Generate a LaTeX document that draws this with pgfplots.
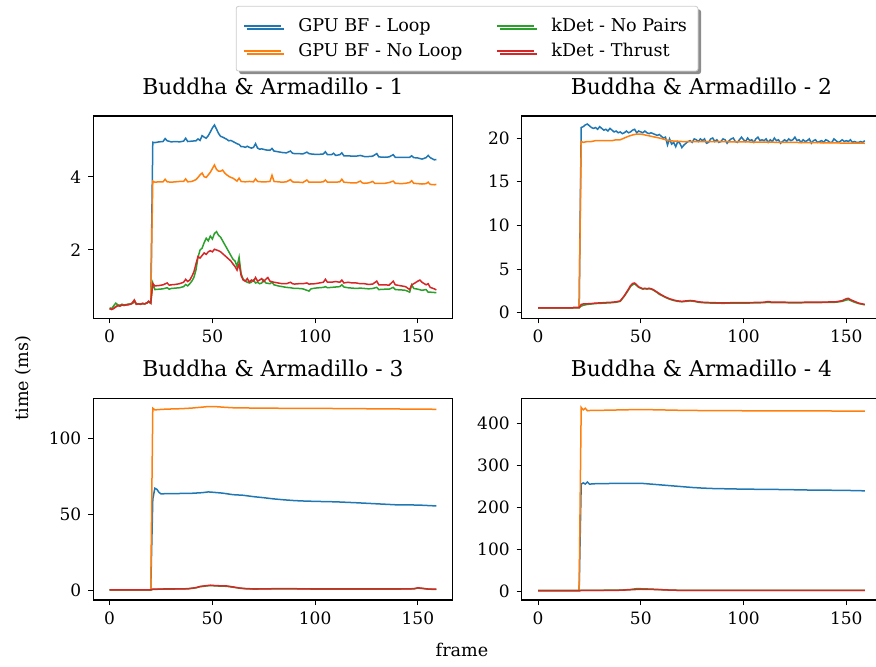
\documentclass[border=0pt]{standalone}
\usepackage{fontspec}
\setmainfont{DejaVu Serif}
\usepackage{pgfplots}
\pgfplotsset{compat=1.18}
\usetikzlibrary{shadows}
\definecolor{tabblue}{HTML}{1F77B4}
\definecolor{taborange}{HTML}{FF7F0E}
\definecolor{tabgreen}{HTML}{2CA02C}
\definecolor{tabred}{HTML}{D62728}
\pgfplotsset{
  myax/.style={
    scale only axis, width=179.7pt,
    xmin=-7.95, xmax=166.95, xtick={0,50,100,150},
    tick align=outside, major tick length=2.5pt,
    xtick pos=bottom, ytick pos=left,
    tick style={black, line width=0.5pt},
    axis line style={line width=0.55pt},
    every axis plot/.append style={line width=0.75pt, no markers},
    /pgf/number format/assume math mode=true,
    ticklabel style={font=\fontsize{8.5}{10}\selectfont},
    title style={font=\fontsize{10.9}{13}\selectfont, at={(0.5,1)}, anchor=base, yshift=5pt},
    anchor=south west,
  }
}
\begin{document}
\begin{tikzpicture}
\path[use as bounding box] (0pt,0pt) rectangle (438pt,333pt);
% ---------------- Plot 1
\begin{axis}[myax, at={(46.65pt,173.85pt)}, height=101.15pt,
  ymin=0.136, ymax=5.656, ytick={2,4},
  title={Buddha \& Armadillo - 1},
  legend style={at={(1.04,1.544)}, anchor=north, legend columns=2,
    draw=black!20, rounded corners=1.2pt, fill=white,
    font=\fontsize{8.8}{10}\selectfont,
    drop shadow={shadow xshift=1.5pt, shadow yshift=-1.5pt, fill=black!45, opacity=1},
    /tikz/every even column/.append style={column sep=15pt},
    row sep=0.3pt, inner xsep=3.5pt, inner ysep=3.85pt},
  legend cell align=left,
  legend image code/.code={\draw[#1, line width=0.75pt] (0pt,0pt) -- (18.3pt,0pt);},
]
\addlegendimage{tabblue}\addlegendentry{\hspace{6.5pt}GPU BF - Loop}
\addlegendimage{tabgreen}\addlegendentry{\hspace{6.5pt}kDet - No Pairs}
\addlegendimage{taborange}\addlegendentry{\hspace{6.5pt}GPU BF - No Loop}
\addlegendimage{tabred}\addlegendentry{\hspace{6.5pt}kDet - Thrust}
\addplot[tabblue, forget plot] coordinates {(0,0.40)(1,0.38)(2,0.42)(3,0.45)(4,0.50)(5,0.47)(6,0.50)(7,0.49)(8,0.50)(9,0.51)(10,0.52)(11,0.55)(12,0.63)(13,0.52)(14,0.53)(15,0.52)(16,0.54)(17,0.53)(18,0.55)(19,0.60)(20,0.55)
(21,4.94)(22,4.93)(24,4.95)(26,4.96)(27,5.04)(28,4.98)(30,4.95)(32,4.96)(34,4.95)(36,4.97)(37,5.05)(38,4.96)(40,4.97)(42,4.98)(43,5.03)(44,4.99)(45,5.12)(46,5.08)(47,5.05)(48,5.12)(49,5.22)(50,5.33)(51,5.41)(52,5.30)(53,5.18)(54,5.10)(55,5.08)(56,5.05)(57,5.02)(58,4.98)(59,4.99)(60,4.96)(61,4.93)(62,4.90)(63,4.88)(64,4.82)(65,4.82)(66,4.80)(67,4.83)(68,4.80)(69,4.78)(70,4.80)(71,4.90)(72,4.78)(73,4.75)(74,4.76)(76,4.73)(78,4.72)(79,4.77)(80,4.70)(82,4.68)(84,4.66)(86,4.65)(88,4.70)(89,4.64)(90,4.63)(92,4.63)(94,4.62)(96,4.67)(97,4.63)(98,4.62)(100,4.61)(102,4.61)(104,4.62)(105,4.68)(106,4.60)(108,4.60)(109,4.64)(110,4.58)(112,4.60)(113,4.65)(114,4.57)(116,4.57)(118,4.56)(120,4.56)(122,4.58)(124,4.55)(126,4.55)(128,4.56)(130,4.63)(131,4.54)(134,4.53)(136,4.54)(138,4.60)(139,4.53)(142,4.53)(144,4.53)(146,4.53)(147,4.57)(148,4.52)(150,4.51)(152,4.48)(154,4.52)(155,4.58)(156,4.52)(158,4.46)(159,4.47)};
\addplot[taborange, forget plot] coordinates {(0,0.40)(1,0.38)(2,0.42)(3,0.45)(4,0.50)(5,0.47)(6,0.50)(7,0.49)(8,0.50)(9,0.51)(10,0.52)(11,0.55)(12,0.63)(13,0.52)(14,0.53)(15,0.52)(16,0.54)(17,0.53)(18,0.55)(19,0.60)(20,0.55)
(21,3.88)(22,3.85)(24,3.86)(26,3.86)(27,3.93)(28,3.86)(30,3.85)(32,3.86)(34,3.87)(36,3.87)(37,3.94)(38,3.86)(40,3.87)(42,3.92)(43,3.98)(44,4.05)(45,4.10)(46,4.00)(47,3.98)(48,4.05)(49,4.12)(50,4.22)(51,4.32)(52,4.20)(53,4.15)(54,4.15)(55,4.18)(56,4.10)(57,4.05)(58,4.01)(59,3.98)(60,3.96)(61,3.92)(62,3.88)(63,3.96)(64,3.87)(66,3.86)(68,3.87)(70,3.86)(71,3.94)(72,3.87)(74,3.86)(76,3.86)(78,3.87)(79,4.04)(80,3.87)(82,3.86)(84,3.85)(86,3.86)(88,3.92)(89,3.86)(90,3.85)(92,3.85)(94,3.84)(96,3.91)(97,3.85)(100,3.85)(102,3.85)(104,3.86)(105,3.91)(106,3.85)(108,3.85)(110,3.85)(112,3.86)(113,3.93)(114,3.85)(116,3.84)(118,3.83)(120,3.83)(122,3.88)(123,3.83)(124,3.82)(126,3.83)(128,3.87)(129,3.82)(132,3.82)(134,3.82)(136,3.84)(138,3.88)(139,3.82)(142,3.81)(144,3.82)(146,3.84)(147,3.89)(148,3.82)(150,3.81)(152,3.80)(154,3.81)(155,3.85)(156,3.79)(158,3.78)(159,3.79)};
\addplot[tabgreen, forget plot] coordinates {(0,0.42)(1,0.40)(2,0.48)(3,0.55)(4,0.50)(5,0.49)(6,0.52)(7,0.50)(8,0.51)(9,0.52)(10,0.52)(11,0.54)(12,0.58)(13,0.53)(14,0.53)(15,0.52)(16,0.54)(17,0.53)(18,0.55)(19,0.58)(20,0.55)
(21,1.10)(22,0.92)(24,0.93)(26,0.94)(28,0.97)(29,0.93)(30,0.95)(32,0.96)(34,0.97)(36,1.00)(37,1.06)(38,1.02)(39,1.08)(40,1.15)(41,1.25)(42,1.45)(43,1.80)(44,2.00)(45,2.05)(46,2.20)(47,2.32)(48,2.25)(49,2.38)(50,2.30)(51,2.45)(52,2.50)(53,2.40)(54,2.35)(55,2.25)(56,2.15)(57,2.05)(58,1.95)(59,1.85)(60,1.75)(61,1.70)(62,1.55)(63,1.80)(64,1.35)(65,1.20)(66,1.15)(67,1.12)(68,1.10)(69,1.12)(70,1.18)(71,1.10)(72,1.12)(73,1.08)(74,1.10)(75,1.18)(76,1.10)(78,1.08)(79,1.12)(80,1.05)(82,1.02)(84,1.00)(86,0.98)(88,0.97)(90,0.95)(92,0.95)(94,0.94)(96,0.90)(97,0.88)(98,0.94)(100,0.96)(102,0.97)(104,0.98)(105,1.00)(106,0.97)(108,0.98)(110,0.99)(112,1.00)(113,1.05)(114,0.99)(116,0.97)(118,0.96)(120,0.95)(122,0.96)(124,0.95)(126,0.94)(128,0.95)(130,0.98)(131,0.92)(134,0.93)(136,0.93)(138,0.98)(139,0.92)(142,0.91)(144,0.90)(146,0.85)(147,1.05)(148,0.95)(150,0.93)(152,0.90)(154,0.92)(155,0.85)(156,0.85)(158,0.84)(159,0.84)};
\addplot[tabred, forget plot] coordinates {(0,0.40)(1,0.38)(2,0.40)(3,0.45)(4,0.48)(5,0.47)(6,0.50)(7,0.49)(8,0.50)(9,0.51)(10,0.52)(11,0.55)(12,0.63)(13,0.52)(14,0.53)(15,0.52)(16,0.54)(17,0.53)(18,0.55)(19,0.60)(20,0.55)
(21,1.08)(22,1.02)(24,1.03)(26,1.05)(28,1.10)(29,1.04)(30,1.05)(32,1.06)(34,1.08)(36,1.12)(37,1.20)(38,1.14)(39,1.18)(40,1.28)(41,1.40)(42,1.62)(43,1.82)(44,1.78)(45,1.85)(46,1.92)(47,1.88)(48,1.95)(49,1.98)(50,1.95)(51,2.02)(52,2.00)(53,1.98)(54,1.95)(55,1.90)(56,1.85)(57,1.80)(58,1.75)(59,1.70)(60,1.62)(61,1.55)(62,1.45)(63,1.62)(64,1.30)(65,1.18)(66,1.15)(67,1.22)(68,1.12)(69,1.18)(70,1.15)(71,1.25)(72,1.15)(73,1.18)(74,1.22)(75,1.14)(76,1.20)(77,1.25)(78,1.15)(80,1.12)(82,1.10)(84,1.08)(86,1.08)(88,1.12)(89,1.08)(90,1.07)(92,1.08)(94,1.08)(96,1.10)(97,1.07)(100,1.08)(102,1.10)(104,1.12)(105,1.20)(106,1.12)(108,1.12)(110,1.14)(112,1.12)(113,1.18)(114,1.10)(116,1.12)(118,1.10)(120,1.10)(122,1.08)(124,1.08)(126,1.06)(128,1.07)(130,1.15)(131,1.05)(134,1.05)(136,1.04)(138,1.15)(139,1.05)(142,1.02)(144,1.00)(146,0.92)(147,1.05)(148,1.08)(150,1.15)(151,1.18)(152,1.12)(154,1.05)(155,1.08)(156,0.98)(158,0.94)(159,0.91)};
\end{axis}
% ---------------- Plot 2
\begin{axis}[myax, at={(260.85pt,173.85pt)}, height=101.15pt,
  ymin=-0.64, ymax=22.52, ytick={0,5,10,15,20},
  title={Buddha \& Armadillo - 2}]
\addplot[tabblue] coordinates {(0,0.55)(5,0.55)(10,0.56)(15,0.56)(20,0.58)
(21,21.2)(22,21.3)(23,21.5)(24,21.6)(25,21.4)(26,21.2)(27,21.1)(28,21.2)(29,21.0)(30,21.3)(31,21.1)(32,20.9)(33,21.0)(34,20.8)(35,21.1)(36,20.9)(37,20.7)(38,20.8)(39,20.6)(40,20.7)(41,20.5)(42,20.6)(43,20.8)(44,20.6)(45,20.7)(46,20.9)(47,21.0)(48,20.6)(49,20.8)(50,20.7)(51,20.6)(52,20.8)(53,20.6)(54,20.5)(55,20.6)(56,20.5)(57,20.4)(58,20.3)(59,20.4)(60,20.2)(61,20.0)(62,20.1)(63,19.2)(64,19.9)(65,19.3)(66,19.5)(67,19.0)(68,19.6)(69,19.4)(70,18.9)(71,19.2)(72,19.4)(73,19.6)(74,19.7)(75,19.5)(76,19.9)(77,19.8)(78,19.6)(79,19.9)(80,19.7)(81,19.9)(82,19.4)(83,19.5)(84,19.9)(85,20.0)(86,19.6)(87,19.8)(88,19.5)(89,19.6)(90,19.9)(91,19.8)(92,19.4)(93,19.7)(94,19.9)(95,20.0)(96,19.6)(97,19.5)(98,19.8)(99,20.1)(100,19.8)(101,19.6)(102,20.0)(103,19.7)(104,19.8)(105,19.5)(106,19.9)(107,20.1)(108,19.7)(109,19.8)(110,19.7)(111,19.9)(112,19.5)(113,19.8)(114,19.6)(115,20.0)(116,19.7)(117,19.8)(118,19.4)(119,19.6)(120,19.8)(121,19.6)(122,19.9)(123,19.7)(124,19.8)(125,20.1)(126,19.7)(127,19.8)(128,19.5)(129,19.8)(130,19.6)(131,19.7)(132,19.9)(133,19.4)(134,19.7)(135,19.8)(136,19.5)(137,19.6)(138,19.7)(139,19.5)(140,19.8)(141,19.7)(142,19.5)(143,19.5)(144,19.9)(145,19.7)(146,19.5)(147,19.6)(148,19.8)(149,19.6)(150,19.7)(151,19.6)(152,19.8)(153,19.5)(154,19.6)(155,19.5)(156,19.5)(157,19.6)(158,19.5)(159,19.7)};
\addplot[taborange] coordinates {(0,0.55)(5,0.55)(10,0.56)(15,0.56)(20,0.58)
(21,19.6)(22,19.5)(24,19.6)(26,19.6)(28,19.7)(30,19.7)(32,19.7)(34,19.7)(36,19.7)(38,19.8)(40,19.8)(42,20.0)(44,20.2)(46,20.35)(48,20.45)(50,20.45)(52,20.35)(54,20.25)(56,20.15)(58,20.05)(60,19.95)(62,19.8)(64,19.7)(66,19.65)(70,19.6)(80,19.6)(90,19.58)(100,19.55)(110,19.53)(120,19.5)(130,19.48)(140,19.45)(150,19.42)(159,19.4)};
\addplot[tabgreen] coordinates {(0,0.55)(5,0.55)(10,0.56)(15,0.56)(20,0.58)
(21,0.75)(22,0.85)(24,0.95)(26,1.0)(28,1.05)(30,1.07)(32,1.1)(34,1.12)(36,1.15)(38,1.2)(40,1.3)(42,1.9)(44,2.6)(45,3.0)(46,3.2)(47,3.3)(48,3.1)(49,2.9)(50,2.8)(51,2.7)(52,2.75)(53,2.7)(54,2.75)(55,2.7)(56,2.6)(57,2.45)(58,2.3)(59,2.1)(60,2.0)(62,1.75)(64,1.55)(66,1.4)(68,1.3)(70,1.25)(72,1.3)(74,1.35)(76,1.3)(78,1.2)(80,1.15)(85,1.1)(90,1.08)(95,1.1)(100,1.1)(105,1.12)(110,1.15)(112,1.2)(114,1.15)(120,1.15)(125,1.12)(130,1.15)(135,1.15)(140,1.18)(145,1.2)(148,1.3)(150,1.45)(151,1.5)(152,1.4)(154,1.2)(156,1.05)(158,0.95)(159,0.9)};
\addplot[tabred] coordinates {(0,0.55)(5,0.55)(10,0.56)(15,0.56)(20,0.58)
(21,0.95)(22,1.0)(24,1.02)(26,1.05)(28,1.1)(30,1.12)(32,1.15)(34,1.18)(36,1.2)(38,1.25)(40,1.35)(42,1.95)(44,2.7)(45,3.1)(46,3.35)(47,3.4)(48,3.2)(49,2.95)(50,2.85)(51,2.75)(52,2.8)(53,2.75)(54,2.8)(55,2.75)(56,2.65)(57,2.5)(58,2.35)(59,2.2)(60,2.05)(62,1.8)(64,1.6)(66,1.45)(68,1.35)(70,1.3)(72,1.35)(74,1.4)(76,1.35)(78,1.25)(80,1.2)(85,1.15)(90,1.12)(95,1.15)(100,1.15)(105,1.17)(110,1.2)(112,1.28)(114,1.2)(120,1.2)(125,1.18)(130,1.2)(135,1.2)(140,1.22)(145,1.25)(148,1.38)(150,1.6)(151,1.65)(152,1.5)(154,1.3)(156,1.1)(158,1.0)(159,0.95)};
\end{axis}
% ---------------- Plot 3
\begin{axis}[myax, at={(46.65pt,33pt)}, height=100.85pt,
  ymin=-6.1, ymax=126.2, ytick={0,50,100},
  title={Buddha \& Armadillo - 3}]
\addplot[tabblue] coordinates {(0,0.5)(10,0.5)(20,0.5)(21,60.0)(22,67.2)(23,66.5)(24,64.5)(25,63.5)(28,63.7)(30,63.6)(35,63.8)(40,63.9)(45,64.3)(48,64.8)(50,64.6)(55,64.0)(60,63.0)(65,62.6)(70,61.7)(75,61.0)(80,60.2)(85,59.6)(90,59.1)(95,58.8)(100,58.6)(110,58.3)(120,57.7)(130,57.0)(140,56.3)(150,56.2)(159,55.6)};
\addplot[taborange] coordinates {(0,0.5)(10,0.5)(20,0.5)(21,119.7)(22,118.6)(24,118.8)(26,119.0)(30,119.2)(35,119.4)(40,119.8)(45,120.4)(48,120.8)(52,120.7)(56,120.3)(60,120.0)(70,119.8)(80,119.7)(90,119.6)(100,119.6)(110,119.5)(120,119.4)(130,119.3)(140,119.2)(150,119.1)(159,119.0)};
\addplot[tabgreen] coordinates {(0,0.5)(10,0.5)(20,0.5)(21,0.9)(25,1.0)(30,1.1)(38,1.2)(42,1.9)(44,2.6)(47,3.1)(49,3.4)(51,3.2)(54,3.0)(57,2.9)(60,2.3)(63,1.7)(66,1.3)(70,1.1)(80,1.2)(90,1.2)(100,1.1)(110,1.1)(120,1.1)(130,1.1)(140,1.1)(148,1.2)(150,1.7)(152,1.5)(155,1.0)(159,0.9)};
\addplot[tabred] coordinates {(0,0.5)(10,0.5)(20,0.5)(21,1.0)(25,1.1)(30,1.2)(38,1.3)(42,2.0)(44,2.8)(47,3.3)(49,3.6)(51,3.4)(54,3.2)(57,3.1)(60,2.5)(63,1.8)(66,1.4)(70,1.2)(80,1.3)(90,1.3)(100,1.2)(110,1.2)(120,1.2)(130,1.2)(140,1.2)(148,1.3)(150,1.9)(152,1.6)(155,1.1)(159,1.0)};
\end{axis}
% ---------------- Plot 4
\begin{axis}[myax, at={(260.85pt,33pt)}, height=100.85pt,
  ymin=-21.5, ymax=459.7, ytick={0,100,200,300,400},
  title={Buddha \& Armadillo - 4}]
\addplot[tabblue] coordinates {(0,0.6)(10,0.6)(20,0.6)(21,255)(22,258)(23,255)(24,260)(25,255)(28,256)(30,256)(35,256.5)(40,257)(45,257)(50,257)(55,255)(60,253)(65,251)(70,249)(75,247)(80,245.5)(85,244.5)(90,244)(100,243)(110,242.5)(120,242)(130,241)(140,240.5)(150,240)(159,239)};
\addplot[taborange] coordinates {(0,0.6)(10,0.6)(20,0.6)(21,438)(22,432)(23,436)(24,430)(26,431)(30,431)(40,432)(50,433)(60,432)(70,431)(80,430.5)(100,430)(120,430)(140,429.5)(159,429)};
\addplot[tabgreen] coordinates {(0,0.6)(10,0.6)(20,0.6)(21,1.5)(40,2.0)(45,3.5)(48,5.6)(50,5.4)(55,4.5)(60,3.2)(65,2.0)(70,1.6)(100,1.6)(159,1.5)};
\addplot[tabred] coordinates {(0,0.6)(10,0.6)(20,0.6)(21,1.5)(40,1.8)(45,3.0)(50,4.2)(55,3.8)(60,3.0)(65,2.0)(70,1.5)(100,1.5)(159,1.5)};
\end{axis}
\node[rotate=90, font=\fontsize{8.8}{10}\selectfont] at (11.5pt,144pt) {time (ms)};
\node[anchor=base, font=\fontsize{8.8}{10}\selectfont] at (231pt,4.65pt) {frame};
\end{tikzpicture}
\end{document}
